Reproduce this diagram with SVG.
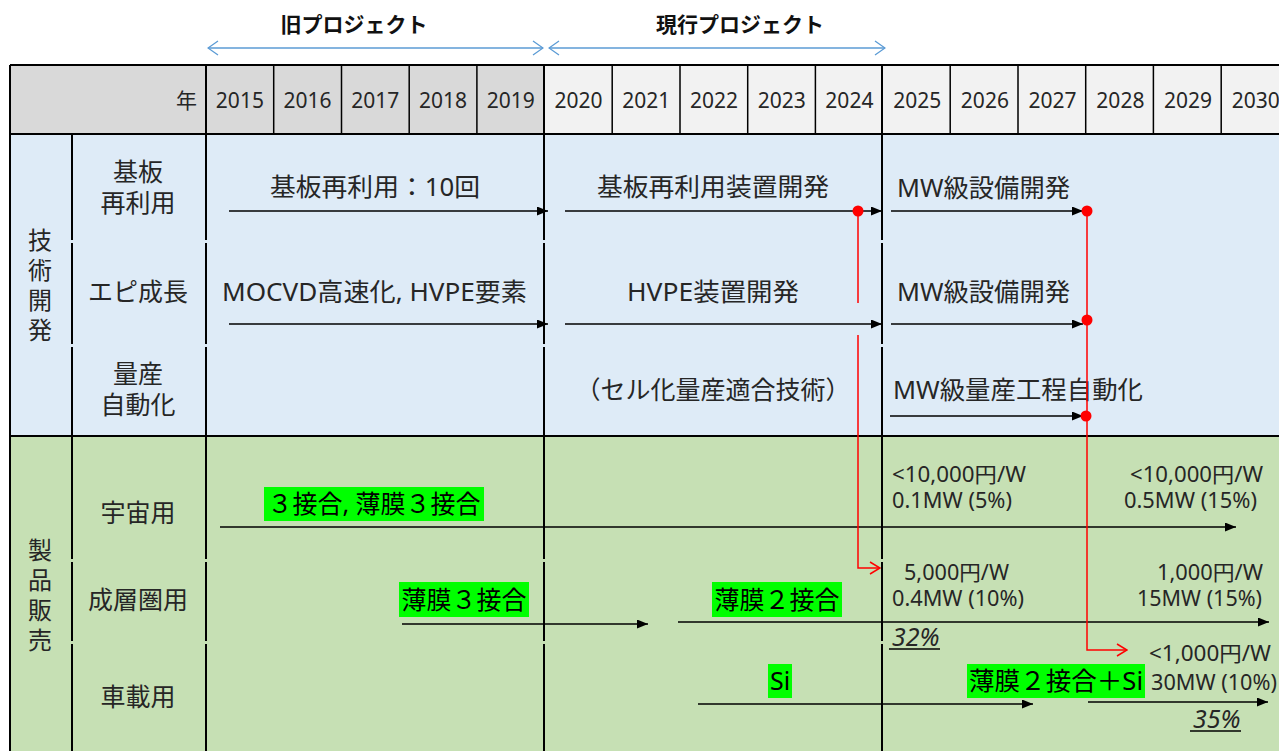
<svg xmlns="http://www.w3.org/2000/svg" width="1279" height="751" viewBox="0 0 1279 751">
<style>
text{font-family:"Noto Sans","Noto Sans CJK JP",sans-serif;fill:#262626}
.t25{font-size:25px}
.t21{font-size:21px}
.yr{font-size:21px;text-anchor:middle}
.ttl{font-size:21px;font-weight:bold;text-anchor:middle;fill:#111}
.mid{text-anchor:middle}
.end{text-anchor:end}
.vert{font-size:24px;writing-mode:vertical-rl;letter-spacing:6px;font-family:"Noto Sans CJK JP",sans-serif}
.g{fill:#00ff00}
.gt{font-size:25px;fill:#000;text-anchor:middle}
.pct{font-size:25px;font-style:italic}
.grid{stroke:#000;stroke-width:2;fill:none}
.thin{stroke:#000;stroke-width:1.5;fill:none}
.arr{stroke:#000;stroke-width:1.5;fill:none;marker-end:url(#ah)}
.red{stroke:#ff0000;stroke-width:1.5;fill:none}
.blue{stroke:#5b9bd5;stroke-width:1.3;fill:none;marker-start:url(#bh);marker-end:url(#bh)}
</style>
<defs>
<marker id="ah" viewBox="0 0 11 9" refX="11" refY="4.5" markerWidth="11" markerHeight="9" markerUnits="userSpaceOnUse" orient="auto"><path d="M0,0 L11,4.5 L0,9 Z" fill="#000"/></marker>
<marker id="bh" viewBox="0 0 12 16" refX="11" refY="8" markerWidth="12" markerHeight="16" markerUnits="userSpaceOnUse" orient="auto-start-reverse"><path d="M1,1 L11,8 L1,15" fill="none" stroke="#5b9bd5" stroke-width="1.3"/></marker>
<marker id="rh" viewBox="0 0 12 14" refX="11" refY="7" markerWidth="12" markerHeight="14" markerUnits="userSpaceOnUse" orient="auto"><path d="M1,1 L11,7 L1,13" fill="none" stroke="#ff0000" stroke-width="1.5"/></marker>
</defs>
<rect width="1279" height="751" fill="#fff"/>

<g id="backgrounds">
<rect x="10" y="65" width="534" height="69" fill="#d9d9d9"/>
<rect x="544" y="65" width="735" height="69" fill="#f2f2f2"/>
<rect x="10" y="134" width="1269" height="302" fill="#deebf7"/>
<rect x="10" y="436" width="1269" height="315" fill="#c6e0b4"/>
</g>

<g id="grid">
<line class="grid" x1="10" y1="65" x2="1279" y2="65" stroke-width="2.5"/>
<line class="grid" x1="10" y1="65" x2="10" y2="751"/>
<line class="grid" x1="10" y1="134" x2="1279" y2="134"/>
<line class="grid" x1="10" y1="436" x2="1279" y2="436"/>
<path class="thin" d="M273.7,65V134M341.5,65V134M409.2,65V134M476.9,65V134M612.2,65V134M680,65V134M747.7,65V134M815.4,65V134M950.2,65V134M1018,65V134M1085.7,65V134M1153.4,65V134M1221.2,65V134"/>
<path class="grid" d="M206,65V134M544,65V134M882,65V134"/>
<path class="grid" d="M72,134V240M72,243V344M72,347V436M72,436V559M72,562V641M72,644V751"/>
<path class="grid" d="M206,134V240M206,243V344M206,347V436M206,436V559M206,562V641M206,644V751"/>
<path class="grid" d="M544,134V240M544,243V344M544,347V436M544,436V559M544,562V641M544,644V751"/>
<path class="grid" d="M882,134V240M882,243V344M882,347V436M882,436V559M882,562V641M882,644V751"/>
</g>

<g id="projects">
<text class="ttl" x="354" y="32">旧プロジェクト</text>
<text class="ttl" x="740" y="32">現行プロジェクト</text>
</g>

<g id="header">
<text class="t21 end" x="197" y="108">年</text>
<text class="yr" x="239.9" y="108">2015</text>
<text class="yr" x="307.6" y="108">2016</text>
<text class="yr" x="375.3" y="108">2017</text>
<text class="yr" x="443.1" y="108">2018</text>
<text class="yr" x="510.8" y="108">2019</text>
<text class="yr" x="578.5" y="108">2020</text>
<text class="yr" x="646.3" y="108">2021</text>
<text class="yr" x="714" y="108">2022</text>
<text class="yr" x="781.7" y="108">2023</text>
<text class="yr" x="849.4" y="108">2024</text>
<text class="yr" x="917.2" y="108">2025</text>
<text class="yr" x="984.9" y="108">2026</text>
<text class="yr" x="1052.6" y="108">2027</text>
<text class="yr" x="1120.4" y="108">2028</text>
<text class="yr" x="1188.1" y="108">2029</text>
<text class="yr" x="1255.8" y="108">2030</text>
</g>

<g id="category-tech">
<text class="vert" x="40" y="228">技術開発</text>
</g>
<g id="category-product">
<text class="vert" x="40" y="538">製品販売</text>
</g>

<g id="row-substrate">
<text class="t25 mid" x="138" y="181">基板</text>
<text class="t25 mid" x="138" y="212">再利用</text>
</g>
<g id="row-epi"><text class="t25 mid" x="138" y="301">エピ成長</text></g>
<g id="row-mass">
<text class="t25 mid" x="138" y="383">量産</text>
<text class="t25 mid" x="138" y="414">自動化</text>
</g>
<g id="row-space"><text class="t25 mid" x="138" y="522">宇宙用</text></g>
<g id="row-strato"><text class="t25 mid" x="138" y="609">成層圏用</text></g>
<g id="row-car"><text class="t25 mid" x="138" y="706">車載用</text></g>

<g id="task-substrate-old"><text class="t25 mid" x="375" y="196" textLength="210" lengthAdjust="spacingAndGlyphs">基板再利用：10回</text></g>
<g id="task-epi-old"><text class="t25 mid" x="374.5" y="301" textLength="305" lengthAdjust="spacingAndGlyphs">MOCVD高速化, HVPE要素</text></g>
<g id="task-substrate-cur"><text class="t25 mid" x="713" y="196" textLength="232" lengthAdjust="spacingAndGlyphs">基板再利用装置開発</text></g>
<g id="task-epi-cur"><text class="t25 mid" x="713" y="301" textLength="172" lengthAdjust="spacingAndGlyphs">HVPE装置開発</text></g>
<g id="task-mass-cur"><text class="t25 mid" x="713" y="399">（セル化量産適合技術）</text></g>
<g id="task-substrate-next"><text class="t25" x="897" y="197" textLength="173" lengthAdjust="spacingAndGlyphs">MW級設備開発</text></g>
<g id="task-epi-next"><text class="t25" x="897" y="301" textLength="173" lengthAdjust="spacingAndGlyphs">MW級設備開発</text></g>
<g id="task-mass-next"><text class="t25" x="893" y="399" textLength="250" lengthAdjust="spacingAndGlyphs">MW級量産工程自動化</text></g>

<g id="prod-space-old">
<rect class="g" x="264" y="487" width="220" height="34"/>
<text class="gt" x="374" y="513">３接合, 薄膜３接合</text>
</g>
<g id="prod-strato-old">
<rect class="g" x="399" y="582" width="130" height="35"/>
<text class="gt" x="464" y="609">薄膜３接合</text>
</g>
<g id="prod-strato-cur">
<rect class="g" x="712" y="582" width="130" height="35"/>
<text class="gt" x="777" y="609">薄膜２接合</text>
</g>
<g id="prod-car-cur">
<rect class="g" x="768" y="664" width="24" height="34"/>
<text class="gt" x="780" y="690">Si</text>
</g>
<g id="prod-car-next">
<rect class="g" x="967" y="664" width="178" height="34"/>
<text class="gt" x="1056" y="690" textLength="174" lengthAdjust="spacingAndGlyphs">薄膜２接合＋Si</text>
</g>

<g id="target-space-2025">
<text class="t21" x="892" y="482" textLength="134" lengthAdjust="spacingAndGlyphs">&lt;10,000円/W</text>
<text class="t21" x="892" y="508" textLength="120" lengthAdjust="spacingAndGlyphs">0.1MW (5%)</text>
</g>
<g id="target-space-2030">
<text class="t21 end" x="1263" y="482" textLength="133" lengthAdjust="spacingAndGlyphs">&lt;10,000円/W</text>
<text class="t21 end" x="1257" y="508" textLength="133" lengthAdjust="spacingAndGlyphs">0.5MW (15%)</text>
</g>
<g id="target-strato-2025">
<text class="t21" x="904" y="580" textLength="105" lengthAdjust="spacingAndGlyphs">5,000円/W</text>
<text class="t21" x="892" y="606" textLength="132" lengthAdjust="spacingAndGlyphs">0.4MW (10%)</text>
<text class="pct" x="892" y="646">32%</text>
<line class="thin" x1="889" y1="649" x2="940" y2="649"/>
</g>
<g id="target-strato-2030">
<text class="t21 end" x="1263" y="580" textLength="106" lengthAdjust="spacingAndGlyphs">1,000円/W</text>
<text class="t21 end" x="1262" y="606" textLength="125" lengthAdjust="spacingAndGlyphs">15MW (15%)</text>
</g>
<g id="target-car-2030">
<text class="t21 end" x="1271" y="661" textLength="122" lengthAdjust="spacingAndGlyphs">&lt;1,000円/W</text>
<text class="t21 end" x="1277" y="690" textLength="126" lengthAdjust="spacingAndGlyphs">30MW (10%)</text>
<text class="pct" x="1193" y="728">35%</text>
<line class="thin" x1="1190" y1="731" x2="1241" y2="731"/>
</g>

<g id="connectors">
<line class="blue" x1="208" y1="48" x2="543" y2="48"/>
<line class="blue" x1="549" y1="48" x2="885" y2="48"/>
<line class="arr" x1="229" y1="211" x2="548" y2="211"/>
<line class="arr" x1="229" y1="324" x2="548" y2="324"/>
<line class="arr" x1="565" y1="211" x2="882" y2="211"/>
<line class="arr" x1="565" y1="324" x2="882" y2="324"/>
<line class="arr" x1="891" y1="211" x2="1083" y2="211"/>
<line class="arr" x1="891" y1="324" x2="1083" y2="324"/>
<line class="arr" x1="890" y1="416" x2="1083" y2="416"/>
<line class="arr" x1="220" y1="527" x2="1236" y2="527"/>
<line class="arr" x1="402" y1="624" x2="648" y2="624"/>
<line class="arr" x1="678" y1="622" x2="1269" y2="622"/>
<line class="arr" x1="698" y1="704" x2="1033" y2="704"/>
<line class="arr" x1="1088" y1="702" x2="1268" y2="702"/>
<path class="red" d="M858,211V303"/>
<path class="red" d="M858,335V568H880" marker-end="url(#rh)"/>
<path class="red" d="M1087,211V650H1127" marker-end="url(#rh)"/>
<g fill="#ff0000">
<circle cx="858" cy="211" r="5.5"/>
<circle cx="1087" cy="211" r="5.5"/>
<circle cx="1087" cy="320" r="5.5"/>
<circle cx="1086" cy="416" r="5.5"/>
</g>
</g>
</svg>
